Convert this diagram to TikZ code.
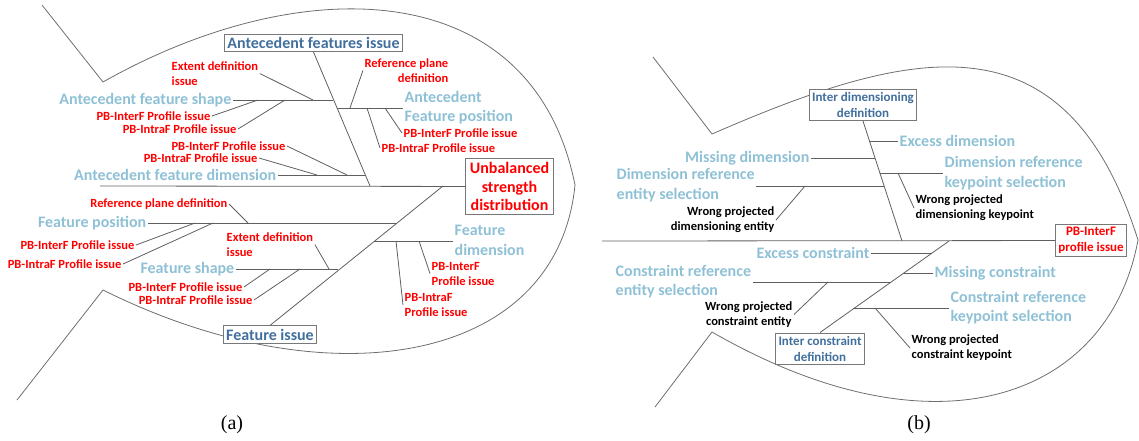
\documentclass[tikz,border=0pt]{standalone}
\usepackage{fontspec}
\setmainfont{Carlito}
\newfontfamily\capfont{Liberation Serif}
\usepackage{tikz}
\usetikzlibrary{positioning,calc}
\newcommand{\causefont}{\fontsize{16}{19.5}\selectfont\bfseries}
\newcommand{\notefont}{\fontsize{12.5}{15}\selectfont\bfseries}
\newcommand{\boxfont}{\fontsize{16}{18.5}\selectfont\bfseries}
\newcommand{\smallboxfont}{\fontsize{13}{16}\selectfont\bfseries}
\definecolor{bonegrey}{RGB}{95,95,95}
\definecolor{bodygrey}{RGB}{110,110,110}
\definecolor{boxgrey}{RGB}{120,120,120}
\definecolor{causeblue}{RGB}{143,193,214}
\definecolor{hdrblue}{RGB}{66,112,158}
\definecolor{issuered}{RGB}{255,0,0}

\begin{document}
\begin{tikzpicture}[x=1pt,y=-1pt,
  body/.style={draw=bodygrey,line width=0.8pt},
  bone/.style={draw=bonegrey,line width=0.8pt},
  cause/.style={font=\causefont,text=causeblue,inner sep=1.5pt},
  sub/.style={font=\notefont,text=issuered,inner sep=1.5pt},
  why/.style={font=\notefont,text=black,inner sep=1.5pt},
  hdr/.style={draw=boxgrey,line width=0.8pt,fill=white,font=\boxfont,text=hdrblue,inner sep=3pt},
  figlabel/.style={font=\capfont\fontsize{20}{24}\selectfont}]
\useasboundingbox (0,0) rectangle (1139,440);
% ---------- (a) unbalanced strength distribution ----------
\begin{scope}
\draw[body] (42,5) -- (103,82) .. controls (303,-31) and (533,-25) .. (575,185)
  .. controls (557,365) and (328,402) .. (103,290) -- (17,400);
% spine and head
\coordinate (spineA) at (100,186);
\node[hdr,text=issuered,align=center,inner sep=4pt] (effA) at (509.5,186.5) {Unbalanced\\strength\\distribution};
\draw[bone] (spineA) -- (effA);
% main bones
\node[hdr] (antA) at (313.5,43) {Antecedent features issue};
\node[hdr] (featA) at (270,334.5) {Feature issue};
\coordinate (antA-end) at (370,186);
\coordinate (featA-end) at (443,186);
\draw[bone] (antA.south) -- (antA-end);
\draw[bone] (featA.north) -- (featA-end);
% causes on the antecedent bone
\node[cause,anchor=east] (aShape) at (233,100) {Antecedent feature shape};
\coordinate (aShape-j) at (333.2,100);
\draw[bone] (aShape) -- (aShape-j);
\node[cause,anchor=east] (aDim) at (278,175) {Antecedent feature dimension};
\coordinate (aDim-j) at (365.3,175);
\draw[bone] (aDim) -- (aDim-j);
\node[cause,anchor=west,align=left] (aPos) at (403,107.5) {Antecedent\\Feature position};
\coordinate (aPos-j) at (336.6,108);
\draw[bone] (aPos-j) -- (aPos.west |- aPos-j);
\node[sub,anchor=west,align=left] (aShapeExt) at (170,73.5) {Extent definition\\issue};
\coordinate (aShapeExt-j) at (313,100);
\draw[bone] (aShapeExt.east) -- (aShapeExt-j);
\node[sub,anchor=east,align=right] (aPosRef) at (450,70.5) {Reference plane\\definition};
\coordinate (aPosRef-j) at (350,108);
\draw[bone] (aPosRef.west) -- (aPosRef-j);
% causes on the feature bone
\node[cause,anchor=east] (fPos) at (148,223) {Feature position};
\coordinate (fPos-j) at (396.3,223);
\draw[bone] (fPos) -- (fPos-j);
\node[cause,anchor=east] (fShape) at (236,269) {Feature shape};
\coordinate (fShape-j) at (338.2,269);
\draw[bone] (fShape) -- (fShape-j);
\node[cause,anchor=west,align=left] (fDim) at (453,240.5) {Feature\\dimension};
\coordinate (fDim-j) at (373.5,241);
\draw[bone] (fDim-j) -- (fDim.west |- fDim-j);
\node[sub,anchor=west,align=left] (fShapeExt) at (225,244.5) {Extent definition\\issue};
\coordinate (fShapeExt-j) at (329,269);
\draw[bone] (fShapeExt.east) -- (fShapeExt-j);
\node[sub,anchor=west,align=left] (fDimInter) at (430,273.5) {PB-InterF\\Profile issue};
\coordinate (fDimInter-j) at (419,241);
\draw[bone] (fDimInter-j) -- (fDimInter.west);
\node[sub,anchor=west,align=left] (fDimIntra) at (403,305) {PB-IntraF\\Profile issue};
\coordinate (fDimIntra-j) at (396,241);
\draw[bone] (fDimIntra-j) -- (fDimIntra.west);
% one-line profile issues
\foreach \nm/\an/\x/\y/\jx/\jy/\txt in {
    aShapeInter/east/212/116/258/100/{PB-InterF Profile issue},
    aShapeIntra/east/238/129/285/100/{PB-IntraF Profile issue},
    aDimInter/east/287/146/347/175/{PB-InterF Profile issue},
    aDimIntra/east/259/158/317/175/{PB-IntraF Profile issue},
    aPosInter/west/402/133/385/108/{PB-InterF Profile issue},
    aPosIntra/west/380/148/367/108/{PB-IntraF Profile issue},
    fPosRef/east/229/204/248/223/{Reference plane definition},
    fPosInter/east/136/245/195/223/{PB-InterF Profile issue},
    fPosIntra/east/123/264/213/223/{PB-IntraF Profile issue},
    fShapeInter/east/244/287/270/269/{PB-InterF Profile issue},
    fShapeIntra/east/254/300/300/269/{PB-IntraF Profile issue}}{
  \node[sub,anchor=\an] (\nm) at (\x,\y) {\txt};
  \coordinate (\nm-j) at (\jx,\jy);
  \draw[bone] (\nm.\an) -- (\nm-j);
}
\node[figlabel] (capA) at (232,425) {(a)};
\end{scope}
% ---------- (b) PB-InterF profile issue ----------
\begin{scope}
\draw[body] (653,57) -- (712,134) .. controls (914,46) and (1066,12) .. (1138,240)
  .. controls (1109,397) and (938,462) .. (712,332) -- (655,407);
% spine and head
\coordinate (spineB) at (602,241);
\node[hdr,text=issuered,font=\smallboxfont,align=center] (effB) at (1091,240.5) {PB-InterF\\profile issue};
\draw[bone] (spineB) -- (effB);
% main bones
\node[hdr,font=\smallboxfont,align=center] (dimB) at (863,105) {Inter dimensioning\\definition};
\node[hdr,font=\smallboxfont,align=center] (conB) at (820,348.5) {Inter constraint\\definition};
\coordinate (dimB-end) at (902,241);
\coordinate (conB-end) at (949,241);
\draw[bone] (dimB.south) -- (dimB-end);
\draw[bone] (conB.north) -- (conB-end);
% dimensioning causes
\node[cause,anchor=west] (bExcDim) at (898,141) {Excess dimension};
\coordinate (bExcDim-j) at (869.3,141);
\draw[bone] (bExcDim-j) -- (bExcDim);
\node[cause,anchor=east] (bMisDim) at (811,158) {Missing dimension};
\coordinate (bMisDim-j) at (874.9,158);
\draw[bone] (bMisDim) -- (bMisDim-j);
\node[cause,anchor=west,align=left] (bDimEnt) at (615,185) {Dimension reference\\entity selection};
\coordinate (bDimEnt-j) at (884.2,186);
\draw[bone] (bDimEnt.east |- bDimEnt-j) -- (bDimEnt-j);
\node[cause,anchor=west,align=left] (bDimKey) at (943,173) {Dimension reference\\keypoint selection};
\coordinate (bDimKey-j) at (879.9,173);
\draw[bone] (bDimKey-j) -- (bDimKey.west |- bDimKey-j);
\node[why,anchor=east,align=right] (bDimEntW) at (776,220) {Wrong projected\\dimensioning entity};
\coordinate (bDimEntW-j) at (805,186);
\draw[bone] (bDimEntW.east) -- (bDimEntW-j);
\node[why,anchor=west,align=left] (bDimKeyW) at (914,208) {Wrong projected\\dimensioning keypoint};
\coordinate (bDimKeyW-j) at (898,173);
\draw[bone] (bDimKeyW-j) -- (bDimKeyW.west);
% constraint causes
\node[cause,anchor=east] (bExcCon) at (871,253) {Excess constraint};
\coordinate (bExcCon-j) at (931.8,253);
\draw[bone] (bExcCon) -- (bExcCon-j);
\node[cause,anchor=west] (bMisCon) at (933,273) {Missing constraint};
\coordinate (bMisCon-j) at (903.1,273);
\draw[bone] (bMisCon-j) -- (bMisCon);
\node[cause,anchor=west,align=left] (bConEnt) at (614,281.5) {Constraint reference\\entity selection};
\coordinate (bConEnt-j) at (890.2,282);
\draw[bone] (bConEnt.east |- bConEnt-j) -- (bConEnt-j);
\node[cause,anchor=west,align=left] (bConKey) at (949,307.5) {Constraint reference\\keypoint selection};
\coordinate (bConKey-j) at (853,308);
\draw[bone] (bConKey-j) -- (bConKey.west |- bConKey-j);
\node[why,anchor=east,align=center] (bConEntW) at (794,314.5) {Wrong projected\\constraint entity};
\coordinate (bConEntW-j) at (828,282);
\draw[bone] (bConEntW.east) -- (bConEntW-j);
\node[why,anchor=west,align=left] (bConKeyW) at (910,348) {Wrong projected\\constraint keypoint};
\coordinate (bConKeyW-j) at (875,308);
\draw[bone] (bConKeyW-j) -- (bConKeyW.west);
\node[figlabel] (capB) at (919,425) {(b)};
\end{scope}
\end{tikzpicture}
\end{document}
